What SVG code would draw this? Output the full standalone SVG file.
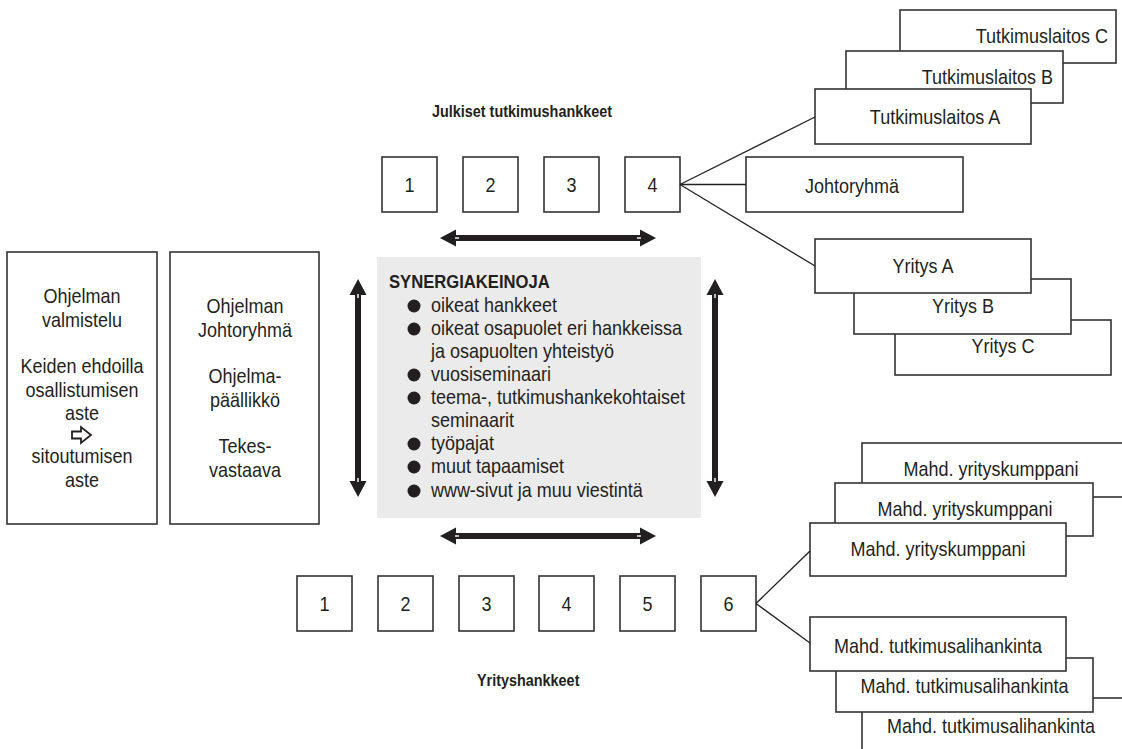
<svg xmlns="http://www.w3.org/2000/svg" width="1122" height="749" viewBox="0 0 1122 749">
  <style>
    text { font-family: "Liberation Sans", Arial, sans-serif; font-size: 20px; fill: #231f20;
           transform-box: fill-box; transform-origin: left center; transform: scaleX(0.9); }
    .c { text-anchor: middle; transform-origin: center center; }
    .r { text-anchor: end; transform-origin: right center; }
    .b { font-weight: bold; font-size: 16px; }
    .t { font-weight: bold; font-size: 18.5px; }
    .box { fill: #fff; stroke: #333; stroke-width: 1.6; }
    .ln { stroke: #231f20; stroke-width: 1.3; fill: none; }
    .arw { fill: #231f20; }
    .nick { fill: #fff; }
  </style>

  <rect width="1122" height="749" fill="#fff"/>

  <!-- left columns -->
  <g id="valmistelu">
    <rect class="box" x="7" y="252" width="150" height="272"/>
    <text class="c" x="82" y="303">Ohjelman</text>
    <text class="c" x="82" y="327">valmistelu</text>
    <text class="c" x="82" y="373">Keiden ehdoilla</text>
    <text class="c" x="82" y="397">osallistumisen</text>
    <text class="c" x="82" y="420">aste</text>
    <polygon points="72,431.5 81,431.5 81,427 91,435 81,443 81,438.5 72,438.5" fill="#fff" stroke="#231f20" stroke-width="1.8" stroke-linejoin="miter"/>
    <text class="c" x="82" y="463">sitoutumisen</text>
    <text class="c" x="82" y="487">aste</text>
  </g>

  <g id="johtoryhma-ohjelma">
    <rect class="box" x="170" y="252" width="149" height="272"/>
    <text class="c" x="245" y="313">Ohjelman</text>
    <text class="c" x="245" y="337">Johtoryhmä</text>
    <text class="c" x="245" y="383">Ohjelma-</text>
    <text class="c" x="245" y="407">päällikkö</text>
    <text class="c" x="245" y="453">Tekes-</text>
    <text class="c" x="245" y="477">vastaava</text>
  </g>

  <!-- centre panel -->
  <g id="synergiakeinoja">
    <rect x="377" y="257" width="324" height="261" fill="#ebebeb"/>
    <text class="t" x="389" y="288">SYNERGIAKEINOJA</text>
    <g fill="#231f20">
      <circle cx="414" cy="306" r="6.5"/>
      <circle cx="414" cy="329" r="6.5"/>
      <circle cx="414" cy="375" r="6.5"/>
      <circle cx="414" cy="398" r="6.5"/>
      <circle cx="414" cy="444" r="6.5"/>
      <circle cx="414" cy="467" r="6.5"/>
      <circle cx="414" cy="491" r="6.5"/>
    </g>
    <text x="431" y="312">oikeat hankkeet</text>
    <text x="431" y="335">oikeat osapuolet eri hankkeissa</text>
    <text x="431" y="358">ja osapuolten yhteistyö</text>
    <text x="431" y="381">vuosiseminaari</text>
    <text x="431" y="404">teema-, tutkimushankekohtaiset</text>
    <text x="431" y="427">seminaarit</text>
    <text x="431" y="450">työpajat</text>
    <text x="431" y="473">muut tapaamiset</text>
    <text x="431" y="497">www-sivut ja muu viestintä</text>
  </g>

  <!-- public research projects -->
  <text class="b" x="432" y="117">Julkiset tutkimushankkeet</text>
  <g id="julkinen-1"><rect class="box" x="382" y="157" width="55" height="55"/><text class="c" x="409.5" y="192">1</text></g>
  <g id="julkinen-2"><rect class="box" x="463" y="157" width="55" height="55"/><text class="c" x="490.5" y="192">2</text></g>
  <g id="julkinen-3"><rect class="box" x="544" y="157" width="55" height="55"/><text class="c" x="571.5" y="192">3</text></g>
  <g id="julkinen-4"><rect class="box" x="625" y="157" width="55" height="55"/><text class="c" x="652.5" y="192">4</text></g>

  <g id="tutkimuslaitos-c"><rect class="box" x="900" y="10" width="216" height="53"/><text class="r" x="1108" y="43">Tutkimuslaitos C</text></g>
  <g id="tutkimuslaitos-b"><rect class="box" x="846" y="51" width="217" height="52"/><text class="r" x="1053" y="84">Tutkimuslaitos B</text></g>
  <g id="tutkimuslaitos-a"><rect class="box" x="815" y="89" width="216" height="55"/><text class="c" x="935" y="124">Tutkimuslaitos A</text></g>
  <g id="johtoryhma"><rect class="box" x="746" y="157" width="217" height="55"/><text class="c" x="852" y="193">Johtoryhmä</text></g>
  <g id="yritys-c"><rect class="box" x="895" y="320" width="216" height="55"/><text class="c" x="1003" y="353">Yritys C</text></g>
  <g id="yritys-b"><rect class="box" x="854" y="279" width="217" height="55"/><text class="c" x="963" y="313">Yritys B</text></g>
  <g id="yritys-a"><rect class="box" x="815" y="239" width="216" height="54"/><text class="c" x="923" y="273">Yritys A</text></g>

  <!-- company projects -->
  <text class="b" x="477" y="686">Yrityshankkeet</text>
  <g id="yritys-1"><rect class="box" x="297" y="576" width="55" height="55"/><text class="c" x="324.5" y="611">1</text></g>
  <g id="yritys-2"><rect class="box" x="378" y="576" width="55" height="55"/><text class="c" x="405.5" y="611">2</text></g>
  <g id="yritys-3"><rect class="box" x="459" y="576" width="55" height="55"/><text class="c" x="486.5" y="611">3</text></g>
  <g id="yritys-4"><rect class="box" x="539" y="576" width="55" height="55"/><text class="c" x="566.5" y="611">4</text></g>
  <g id="yritys-5"><rect class="box" x="620" y="576" width="55" height="55"/><text class="c" x="647.5" y="611">5</text></g>
  <g id="yritys-6"><rect class="box" x="701" y="576" width="55" height="55"/><text class="c" x="728.5" y="611">6</text></g>

  <g id="yrityskumppani-3"><rect class="box" x="862" y="443" width="262" height="54"/><text class="c" x="991" y="476">Mahd. yrityskumppani</text></g>
  <g id="yrityskumppani-2"><rect class="box" x="835" y="483" width="258" height="53"/><text class="c" x="965" y="516">Mahd. yrityskumppani</text></g>
  <g id="yrityskumppani-1"><rect class="box" x="810" y="523" width="256" height="53"/><text class="c" x="938" y="556">Mahd. yrityskumppani</text></g>
  <g id="alihankinta-3"><rect class="box" x="862" y="698" width="262" height="60"/><text class="c" x="991" y="733">Mahd. tutkimusalihankinta</text></g>
  <g id="alihankinta-2"><rect class="box" x="836" y="658" width="257" height="54"/><text class="c" x="964.5" y="693">Mahd. tutkimusalihankinta</text></g>
  <g id="alihankinta-1"><rect class="box" x="810" y="617" width="256" height="54"/><text class="c" x="938" y="653">Mahd. tutkimusalihankinta</text></g>

  <!-- connectors -->
  <g id="connectors">
    <line class="ln" x1="680" y1="184.5" x2="815" y2="117"/>
    <line class="ln" x1="680" y1="184.5" x2="746" y2="184.5"/>
    <line class="ln" x1="680" y1="184.5" x2="815" y2="266"/>
    <line class="ln" x1="756" y1="603.5" x2="810" y2="551"/>
    <line class="ln" x1="756" y1="603.5" x2="810" y2="643"/>

    <!-- double-headed arrows -->
    <g class="arw">
      <!-- top horizontal -->
      <rect x="454" y="235" width="188" height="6"/>
      <polygon points="440,238 456,229.5 456,246.5"/>
      <polygon points="656,238 640,229.5 640,246.5"/>
      <!-- bottom horizontal -->
      <rect x="454" y="533" width="188" height="6"/>
      <polygon points="440,536 456,527.5 456,544.5"/>
      <polygon points="656,536 640,527.5 640,544.5"/>
      <!-- left vertical -->
      <rect x="355" y="293" width="6" height="190"/>
      <polygon points="358,279 349.5,295 366.5,295"/>
      <polygon points="358,497 349.5,481 366.5,481"/>
      <!-- right vertical -->
      <rect x="712" y="293" width="6" height="190"/>
      <polygon points="715,279 706.5,295 723.5,295"/>
      <polygon points="715,497 706.5,481 723.5,481"/>
    </g>
    <g class="nick">
      <rect x="455" y="237.3" width="4" height="1.4"/>
      <rect x="637" y="237.3" width="4" height="1.4"/>
      <rect x="455" y="535.3" width="4" height="1.4"/>
      <rect x="637" y="535.3" width="4" height="1.4"/>
      <rect x="357.3" y="294" width="1.4" height="4"/>
      <rect x="357.3" y="478" width="1.4" height="4"/>
      <rect x="714.3" y="294" width="1.4" height="4"/>
      <rect x="714.3" y="478" width="1.4" height="4"/>
    </g>
  </g>
</svg>
